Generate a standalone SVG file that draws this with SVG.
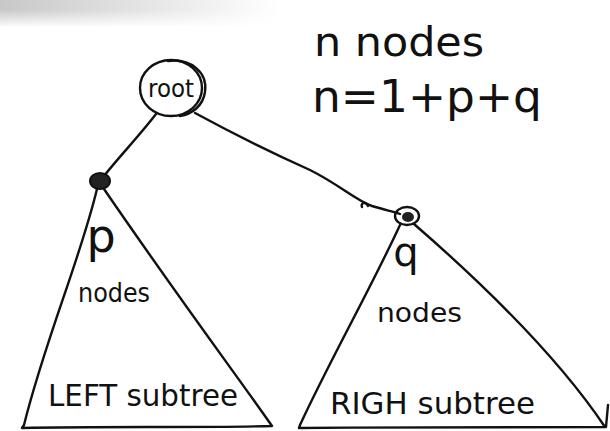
<svg xmlns="http://www.w3.org/2000/svg" width="610" height="431" viewBox="0 0 610 431">
<defs>
<linearGradient id="shade" x1="0" y1="0" x2="1" y2="0">
<stop offset="0" stop-color="#c8c8c8"/>
<stop offset="0.5" stop-color="#e4e4e4"/>
<stop offset="1" stop-color="#ffffff"/>
</linearGradient>
<linearGradient id="shadeV" x1="0" y1="0" x2="0" y2="1">
<stop offset="0" stop-color="#fff" stop-opacity="0"/>
<stop offset="1" stop-color="#fff" stop-opacity="1"/>
</linearGradient>
<style>
.ink{fill:none;stroke:#111;stroke-width:2.4;stroke-linecap:round;stroke-linejoin:round}
.hand{font-family:"DejaVu Sans","Liberation Sans",sans-serif;font-weight:normal;fill:#111}
</style>
</defs>
<rect width="610" height="431" fill="#ffffff"/>
<rect x="0" y="0" width="280" height="26" fill="url(#shade)"/>
<rect x="0" y="10" width="280" height="18" fill="url(#shadeV)"/>

<g id="formula">
<text class="hand" x="314" y="56" font-size="40" textLength="170" lengthAdjust="spacingAndGlyphs">n nodes</text>
<text class="hand" x="312" y="112" font-size="44" textLength="230" lengthAdjust="spacingAndGlyphs">n=1+p+q</text>
</g>

<g id="connectors">
<path class="ink" d="M156,114 C140,135 118,158 104,176"/>
<path class="ink" d="M195,113 C230,132 270,152 310,170 C340,185 355,200 372,206 C385,210 395,212 400,214"/>
<path class="ink" d="M362,207 C360,203 366,201 368,206"/>
</g>

<g id="root">
<ellipse class="ink" cx="171" cy="88" rx="31" ry="28"/>
<path class="ink" d="M168,61 C190,58 208,72 205,92 C203,106 192,114 180,116" stroke-width="1.8"/>
<text class="hand" x="171" y="97" font-size="25" text-anchor="middle" font-weight="bold" textLength="46" lengthAdjust="spacingAndGlyphs">root</text>
</g>

<g id="p-node">
<ellipse cx="100" cy="181" rx="10" ry="8" fill="#222" stroke="#111" stroke-width="2"/>
</g>

<g id="q-node">
<ellipse cx="407" cy="216" rx="12" ry="9" fill="none" stroke="#111" stroke-width="2.4"/>
<ellipse cx="408" cy="217" rx="6" ry="5" fill="#222"/>
</g>

<g id="left-subtree">
<path class="ink" d="M97,189 C80,260 45,340 24,425 L22,428 C100,426 200,428 272,426 C240,380 180,300 104,189"/>
<text class="hand" x="101" y="252" font-size="46" text-anchor="middle">p</text>
<text class="hand" x="78" y="302" font-size="26" textLength="72" lengthAdjust="spacingAndGlyphs">nodes</text>
<text class="hand" x="48" y="406" font-size="30" textLength="190" lengthAdjust="spacingAndGlyphs">LEFT subtree</text>
</g>

<g id="right-subtree">
<path class="ink" d="M400,225 C370,290 330,360 300,425 L299,428 C400,427 500,428 605,427 C560,360 490,290 414,224"/>
<path class="ink" d="M606,427 L608,405"/>
<text class="hand" x="406" y="266" font-size="40" text-anchor="middle">q</text>
<text class="hand" x="377" y="322" font-size="26" textLength="85" lengthAdjust="spacingAndGlyphs">nodes</text>
<text class="hand" x="330" y="414" font-size="30" textLength="205" lengthAdjust="spacingAndGlyphs">RIGH subtree</text>
</g>
</svg>
